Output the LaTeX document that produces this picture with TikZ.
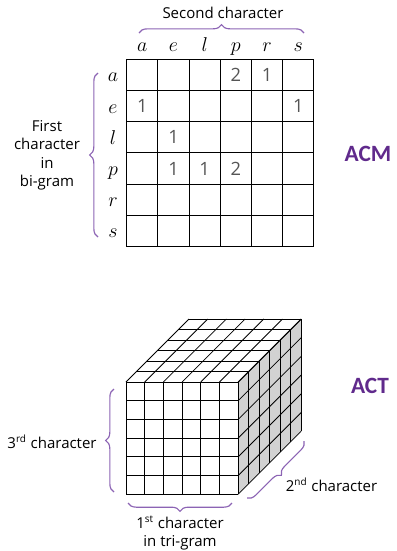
\documentclass[tikz,border=0pt]{standalone}
\usepackage{fontspec}
\setmainfont{Open Sans}
\newfontfamily\titfont{Carlito}
\usetikzlibrary{decorations.pathreplacing}
\definecolor{morado}{HTML}{602A8C}
\definecolor{moradoL}{HTML}{8C64B4}
\definecolor{grisC}{HTML}{D2D2D2}
\definecolor{grisN}{HTML}{555555}

\tikzset{
  llave/.style={moradoL,line width=0.7pt,decorate,decoration={brace,amplitude=5pt}},
  etiq/.style={font=\fontsize{9}{11}\selectfont,align=center,inner sep=0pt},
  letra/.style={font=\large,anchor=base,inner sep=0pt},
  cuenta/.style={grisN,font=\fontsize{11}{13}\selectfont},
  titulo/.style={morado,font=\titfont\bfseries\fontsize{14}{16}\selectfont},
  celda/.style={line width=0.7pt},
  cubo/.style={line width=0.5pt},
}

\begin{document}
\begin{tikzpicture}[x=0.6pt,y=-0.6pt]
  \useasboundingbox (0,0) rectangle (397,551);
  % bi-gram matrix
  \foreach \i in {0,...,6} {
    \draw[celda] ({126.7+\i*31.2},59.3) -- ({126.7+\i*31.2},246.5);
    \draw[celda] (126.7,{59.3+\i*31.2}) -- (313.9,{59.3+\i*31.2});
  }
  \foreach \l [count=\i] in {a,e,l,p,r,s} {
    \node[letra] (col-\l) at ({126.7+(\i-0.5)*31.2},51.7) {$\l$};
    \node[letra] (fila-\l) at (113,{59.3+(\i-0.5)*31.2+7}) {$\l$};
  }
  \foreach \r/\c/\v in {1/4/2,1/5/1,2/1/1,2/6/1,3/2/1,4/2/1,4/3/1,4/4/2}
    \node[cuenta] (n-\r-\c) at ({126.7+(\c-0.5)*31.2},{59.3+(\r-0.5)*31.2}) {\v};
  \draw[llave] (139,33) -- (304,33);
  \draw[llave] (98,237) -- (98,73);
  \node[etiq] (segundo) at (223,13) {Second character};
  \node[etiq,font=\fontsize{9}{11.1}\selectfont] (primero) at (47,155.5) {First\\character\\in\\bi-gram};
  \node[titulo] (acm) at (368,154) {ACM};

  % tri-gram cube
  \fill[grisC] (238.2,382) -- (301.2,319) -- (301.2,431.2) -- (238.2,494.2) -- cycle;
  \foreach \i in {0,...,6} {
    \draw[cubo] ({126+\i*18.7},382) -- ({126+\i*18.7},494.2);
    \draw[cubo] (126,{382+\i*18.7}) -- (238.2,{382+\i*18.7});
    \draw[cubo] ({126+\i*18.7},382) -- ++(63,-63);
    \draw[cubo] ({126+\i*10.5},{382-\i*10.5}) -- ++(112.2,0);
    \draw[cubo] ({238.2+\i*10.5},{382-\i*10.5}) -- ++(0,112.2);
    \draw[cubo] (238.2,{382+\i*18.7}) -- ++(63,-63);
  }
  \draw[llave] (114,492) -- (114,389);
  \draw[llave] (232,503) -- (128,503);
  \draw[llave] (304,441) -- (247,498);
  \node[etiq] (tercero) at (52,441.7) {3\textsuperscript{rd} character};
  \node[etiq,font=\fontsize{9}{10.6}\selectfont] (prim3) at (180,533) {1\textsuperscript{st} character\\in tri-gram};
  \node[etiq] (segundo3) at (331.5,485) {2\textsuperscript{nd} character};
  \node[titulo] (act) at (370,386) {ACT};
\end{tikzpicture}
\end{document}
